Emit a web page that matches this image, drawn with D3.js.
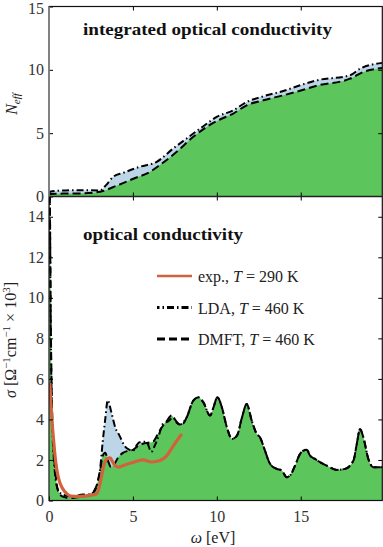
<!DOCTYPE html>
<html><head><meta charset="utf-8">
<script src="https://cdn.jsdelivr.net/npm/d3@7/dist/d3.min.js"></script>
<style>
body{margin:0;background:#fff}
svg{display:block}
text{font-family:"Liberation Serif","DejaVu Serif",serif}
</style>
</head><body>
<svg id="c" width="383" height="547"></svg>
<script>
// ---------------- data ----------------
// integrated optical conductivity (top panel)
const neffOmegaLDA = [0, 0.1, 0.5, 1, 2, 3.04, 3.4, 3.83, 4.43, 5.42, 6.42, 7.41, 8.2, 9.2, 9.99, 10.98, 11.78, 12.77, 13.96, 14.96, 15.95, 17.94, 18.53, 19.86];
const neffLDA      = [0.2, 0.4, 0.45, 0.48, 0.5, 0.48, 0.9, 1.56, 1.87, 2.35, 2.74, 3.8, 4.58, 5.55, 6.28, 6.81, 7.46, 7.91, 8.33, 8.78, 9.17, 9.57, 10.09, 10.55];
const neffOmegaDMFT = [0, 0.1, 0.5, 1, 2, 3.04, 4.03, 5.02, 6.02, 6.62, 7.61, 8.6, 9.4, 10.19, 10.98, 11.78, 12.77, 13.96, 14.96, 15.95, 17.94, 18.73, 19.86];
const neffDMFT      = [0.1, 0.2, 0.22, 0.23, 0.25, 0.38, 0.85, 1.4, 1.95, 2.5, 3.53, 4.71, 5.5, 6.08, 6.55, 7.2, 7.6, 7.99, 8.35, 8.75, 9.3, 9.83, 10.15];

// optical conductivity (bottom panel)
const sigOmegaDMFT = [0.02, 0.06, 0.1, 0.15, 0.2, 0.3, 0.4, 0.5, 0.7, 1.0, 1.3, 1.6, 2.0, 2.4, 2.7, 2.9, 3.05, 3.2, 3.35, 3.5, 3.7, 3.9, 4.1, 4.4, 4.7, 5.0, 5.3, 5.6, 5.9, 6.2, 6.5, 6.8, 7.0, 7.3, 7.5, 7.8, 8.0, 8.2, 8.6, 8.9, 9.2, 9.6, 9.8, 10.03, 10.3, 10.6, 10.9, 11.2, 11.5, 11.78, 12.08, 12.38, 12.57, 12.87, 13.17, 13.57, 13.87, 14.16, 14.36, 14.66, 14.96, 15.16, 15.36, 15.55, 15.85, 16.15, 16.55, 17.15, 17.64, 18.14, 18.34, 18.53, 18.73, 19.03, 19.33, 19.86];
const sigDMFT      = [18, 14, 9.5, 6, 4, 2.2, 1.3, 0.6, 0.25, 0.15, 0.12, 0.15, 0.2, 0.28, 0.5, 0.9, 1.5, 2.2, 2.35, 2.0, 1.65, 1.8, 2.1, 2.35, 2.45, 2.5, 2.7, 2.8, 2.85, 2.9, 3.3, 3.7, 3.9, 4.2, 4.0, 3.75, 3.8, 4.1, 4.93, 5.09, 4.84, 4.19, 4.6, 5.09, 4.6, 3.61, 3.04, 3.2, 4.1, 4.76, 3.94, 3.28, 3.12, 2.46, 1.81, 1.56, 1.48, 1.15, 1.23, 1.72, 2.3, 2.46, 2.51, 2.22, 2.05, 1.89, 1.72, 1.51, 1.56, 1.97, 2.79, 3.53, 3.12, 2.05, 1.64, 1.64];
const sigOmegaLDA = [0.02, 0.06, 0.1, 0.15, 0.2, 0.3, 0.4, 0.5, 0.7, 1.0, 1.3, 1.6, 2.0, 2.4, 2.7, 2.9, 3.05, 3.2, 3.35, 3.5, 3.7, 3.95, 4.2, 4.5, 4.8, 5.0, 5.2, 5.4, 5.8, 6.1, 6.3, 6.5, 6.8, 7.1, 7.4, 7.6, 7.8, 8.2, 8.6, 8.9, 9.2, 9.6, 9.8, 10.03, 10.3, 10.6, 10.9, 11.2, 11.5, 11.78, 12.08, 12.38, 12.57, 12.87, 13.17, 13.57, 13.87, 14.16, 14.36, 14.66, 14.96, 15.16, 15.36, 15.55, 15.85, 16.15, 16.55, 17.15, 17.64, 18.14, 18.34, 18.53, 18.73, 19.03, 19.33, 19.86];
const sigLDA      = [18, 14, 9, 5.5, 3.6, 1.9, 1.0, 0.6, 0.35, 0.25, 0.2, 0.22, 0.3, 0.3, 0.45, 0.9, 1.6, 2.9, 4.0, 4.95, 4.4, 3.6, 3.2, 2.7, 2.5, 2.45, 2.7, 2.87, 2.9, 2.4, 2.7, 3.1, 3.8, 3.9, 4.1, 3.85, 3.75, 4.1, 4.93, 5.09, 4.84, 4.19, 4.6, 5.09, 4.6, 3.61, 3.04, 3.2, 4.1, 4.76, 3.94, 3.28, 3.12, 2.46, 1.81, 1.56, 1.48, 1.15, 1.23, 1.72, 2.3, 2.46, 2.51, 2.22, 2.05, 1.89, 1.72, 1.51, 1.56, 1.97, 2.79, 3.53, 3.12, 2.05, 1.64, 1.64];
const sigOmegaExp = [0.05, 0.1, 0.18, 0.26, 0.4, 0.55, 0.8, 1.05, 1.3, 1.8, 2.44, 2.84, 3.04, 3.24, 3.45, 3.64, 3.8, 3.93, 4.2, 4.43, 5.03, 5.62, 6.1, 6.62, 7.01, 7.41, 7.91];
const sigExp      = [5.8, 5.0, 3.9, 3.1, 1.9, 1.15, 0.6, 0.34, 0.22, 0.2, 0.25, 0.33, 0.82, 1.64, 2.05, 2.1, 1.9, 1.72, 1.65, 1.73, 1.89, 2.0, 1.9, 1.97, 2.2, 2.7, 3.28];

const xTicks = [0, 5, 10, 15];
const topYTicks = [0, 5, 10, 15];
const botYTicks = [0, 2, 4, 6, 8, 10, 12, 14];
const legendLabels = [
  {name: "exp., ", T: "290 K"},
  {name: "LDA, ", T: "460 K"},
  {name: "DMFT, ", T: "460 K"}
];

// ---------------- layout ----------------
const GREEN = "#5cc55c", BLUE = "#bcd6e8", ORANGE = "#d2623c";
const svg = d3.select("#c");
const x = d3.scaleLinear().domain([0, 19.86]).range([49, 382.3]);
const yTop = d3.scaleLinear().domain([0, 15]).range([196.5, 6.5]);
const yBot = d3.scaleLinear().domain([0, 15]).range([500.5, 196.5]);
const zip = (a, b) => a.map((v, i) => [v, b[i]]);

const defs = svg.append("defs");
defs.append("clipPath").attr("id", "clipTop").append("rect")
  .attr("x", x(0)).attr("y", yTop(15)).attr("width", x(19.86) - x(0)).attr("height", yTop(0) - yTop(15));
defs.append("clipPath").attr("id", "clipBot").append("rect")
  .attr("x", x(0)).attr("y", yBot(15)).attr("width", x(19.86) - x(0)).attr("height", yBot(0) - yBot(15));

function panel(clipId, y, lda, dmft, exp) {
  const g = svg.append("g").attr("clip-path", `url(#${clipId})`);
  const area = d3.area().x(d => x(d[0])).y0(y(0)).y1(d => y(d[1])).curve(d3.curveMonotoneX);
  const line = d3.line().x(d => x(d[0])).y(d => y(d[1])).curve(d3.curveMonotoneX);
  g.append("path").datum(lda).attr("d", area).attr("fill", BLUE);
  g.append("path").datum(dmft).attr("d", area).attr("fill", GREEN);
  g.append("path").datum(lda).attr("d", line).attr("fill", "none").attr("stroke", "#000")
    .attr("stroke-width", 2).attr("stroke-dasharray", "7,3,1.5,3");
  g.append("path").datum(dmft).attr("d", line).attr("fill", "none").attr("stroke", "#000")
    .attr("stroke-width", 2).attr("stroke-dasharray", "8,4");
  if (exp) g.append("path").datum(exp).attr("d", line).attr("fill", "none").attr("stroke", ORANGE)
    .attr("stroke-width", 3.2).attr("stroke-linejoin", "round");
}
panel("clipTop", yTop, zip(neffOmegaLDA, neffLDA), zip(neffOmegaDMFT, neffDMFT), null);
panel("clipBot", yBot, zip(sigOmegaLDA, sigLDA), zip(sigOmegaDMFT, sigDMFT), zip(sigOmegaExp, sigExp));

function styleAxis(g) {
  g.select(".domain").remove();
  g.attr("font-family", "Liberation Serif, serif").attr("font-size", 16);
  g.selectAll("text").attr("fill", "#333");
  g.selectAll("line").attr("stroke", "#000");
}
// left axes
svg.append("g").attr("transform", `translate(${x(0)},0)`)
  .call(d3.axisLeft(yTop).tickValues(topYTicks).tickSize(-4).tickPadding(5)).call(styleAxis)
  .selectAll("text").filter(d => d === 15).attr("dy", "0.45em");
svg.append("g").attr("transform", `translate(${x(0)},0)`)
  .call(d3.axisLeft(yBot).tickValues(botYTicks).tickSize(-4).tickPadding(5)).call(styleAxis);
// right axes
svg.append("g").attr("transform", `translate(${x(19.86)},0)`)
  .call(d3.axisRight(yTop).tickValues([5, 10]).tickSize(-4).tickFormat("")).call(styleAxis);
svg.append("g").attr("transform", `translate(${x(19.86)},0)`)
  .call(d3.axisRight(yBot).tickValues(botYTicks.slice(1)).tickSize(-4).tickFormat("")).call(styleAxis);
// bottom axis
svg.append("g").attr("transform", `translate(0,${yBot(0)})`)
  .call(d3.axisBottom(x).tickValues(xTicks).tickSize(-4).tickPadding(6)).call(styleAxis)
  .selectAll("text").attr("dy", "0.95em");
// inner shared boundary ticks
svg.append("g").attr("transform", `translate(0,${yTop(0)})`)
  .call(d3.axisBottom(x).tickValues([5, 10, 15]).tickSize(-4).tickFormat("")).call(styleAxis);
svg.append("g").attr("transform", `translate(0,${yBot(15)})`)
  .call(d3.axisTop(x).tickValues([5, 10, 15]).tickSize(-4).tickFormat("")).call(styleAxis);
svg.append("g").attr("transform", `translate(0,${yTop(15)})`)
  .call(d3.axisTop(x).tickValues([5, 10, 15]).tickSize(-4).tickFormat("")).call(styleAxis);

// frames
svg.append("rect").attr("x", x(0)).attr("y", yTop(15)).attr("width", x(19.86) - x(0)).attr("height", yBot(0) - yTop(15))
  .attr("fill", "none").attr("stroke", "#111").attr("stroke-width", 1.2);
svg.append("line").attr("x1", x(0)).attr("x2", x(19.86)).attr("y1", yTop(0)).attr("y2", yTop(0))
  .attr("stroke", "#222").attr("stroke-width", 1.6);
svg.append("line").attr("x1", x(0)).attr("x2", x(0)).attr("y1", yTop(15)).attr("y2", yTop(0))
  .attr("stroke", "#888").attr("stroke-width", 1.5);

// titles
function fitText(sel, w) {
  sel.attr("textLength", w).attr("lengthAdjust", "spacingAndGlyphs");
}
svg.append("text").attr("x", 83).attr("y", 35).attr("font-size", 16).attr("font-weight", "bold")
  .attr("fill", "#111").text("integrated optical conductivity").call(fitText, 249);
svg.append("text").attr("x", 83).attr("y", 240).attr("font-size", 16).attr("font-weight", "bold")
  .attr("fill", "#111").text("optical conductivity").call(fitText, 160);

// legend
const legY = [276, 307.5, 339];
const legDash = [null, "7,3,1.5,3", "8,4"];
const legStroke = [ORANGE, "#000", "#000"];
legendLabels.forEach((d, i) => {
  svg.append("line").attr("x1", 157).attr("x2", 192).attr("y1", legY[i]).attr("y2", legY[i])
    .attr("stroke", legStroke[i]).attr("stroke-width", i === 0 ? 2.5 : 3)
    .attr("stroke-dasharray", legDash[i]).attr("stroke-dashoffset", i === 1 ? 4.5 : 0);
  const t = svg.append("text").attr("x", 198).attr("y", legY[i] + 6).attr("font-size", 16).attr("fill", "#222");
  t.append("tspan").text(d.name);
  t.append("tspan").attr("font-style", "italic").text("T");
  t.append("tspan").text(" = " + d.T);
});

// axis labels
const yl1 = svg.append("text").attr("transform", "translate(17,104) rotate(-90)").attr("text-anchor", "middle")
  .attr("font-size", 16).attr("fill", "#222");
yl1.append("tspan").attr("font-style", "italic").text("N");
yl1.append("tspan").attr("font-style", "italic").attr("font-size", 11).attr("dy", 3).text("eff");

const yl2 = svg.append("text").attr("transform", "translate(16,340) rotate(-90)").attr("text-anchor", "middle")
  .attr("font-size", 16).attr("fill", "#222");
yl2.append("tspan").attr("font-style", "italic").text("σ");
yl2.append("tspan").text(" [Ω");
yl2.append("tspan").attr("font-size", 11).attr("dy", -6).text("−1");
yl2.append("tspan").attr("dy", 6).text("cm");
yl2.append("tspan").attr("font-size", 11).attr("dy", -6).text("−1");
yl2.append("tspan").attr("dy", 6).text(" × 10");
yl2.append("tspan").attr("font-size", 11).attr("dy", -6).text("3");
yl2.append("tspan").attr("dy", 6).text("]");

const xl = svg.append("text").attr("x", 213).attr("y", 543).attr("text-anchor", "middle")
  .attr("font-size", 16).attr("fill", "#222");
xl.append("tspan").attr("font-style", "italic").text("ω");
xl.append("tspan").text(" [eV]");
</script>
</body></html>
